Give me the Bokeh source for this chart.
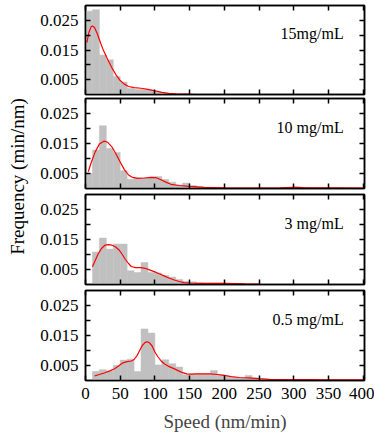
import math
from bokeh.plotting import figure
from bokeh.models import Range1d, LinearAxis, FixedTicker, Label, PrintfTickFormatter
from bokeh.layouts import row, column
from bokeh.embed import file_html
from bokeh.resources import INLINE

# ---------------- data ----------------
bin_left = list(range(0, 400, 10))
bin_width = 10

panel_labels = ["15mg/mL", "10 mg/mL", "3 mg/mL", "0.5 mg/mL"]

hist_15 = [0.0281, 0.0286, 0.0133, 0.0117, 0.0061, 0.0042, 0.0020, 0.0017, 0.0017, 0.0015,
           0.0008, 0.0004, 0.0002, 0.0002, 0.0001, 0, 0, 0, 0, 0,
           0, 0, 0, 0, 0, 0, 0, 0, 0, 0,
           0, 0, 0, 0, 0, 0, 0, 0, 0, 0]
hist_10 = [0.0050, 0.0128, 0.0209, 0.0133, 0.0120, 0.0059, 0.0031, 0.0036, 0.0036, 0.0038,
           0.0040, 0.0030, 0.0021, 0.0012, 0.0018, 0.0010, 0.0007, 0.0005, 0.0004, 0.0003,
           0.0002, 0.0002, 0.0001, 0.0001, 0.0001, 0, 0, 0, 0, 0,
           0.0006, 0, 0, 0, 0.0003, 0, 0, 0, 0, 0]
hist_3 = [0, 0.0108, 0.0155, 0.0118, 0.0135, 0.0135, 0.0046, 0.0040, 0.0073, 0.0040,
          0.0038, 0.0030, 0.0025, 0.0017, 0.0011, 0.0009, 0.0006, 0.0005, 0.0005, 0.0005,
          0.0004, 0.0002, 0, 0, 0, 0, 0, 0, 0, 0,
          0, 0, 0, 0, 0, 0, 0, 0, 0, 0]
hist_05 = [0, 0.0030, 0.0036, 0.0032, 0.0050, 0.0068, 0.0071, 0.0030, 0.0172, 0.0158,
           0.0052, 0.0069, 0.0056, 0.0045, 0.0019, 0.0022, 0.0022, 0.0022, 0.0033, 0.0019,
           0.0013, 0.0010, 0.0008, 0.0017, 0.0008, 0.0004, 0.0003, 0.0003, 0.0002, 0.0002,
           0.0003, 0.0002, 0.0002, 0.0003, 0.0002, 0.0002, 0.0002, 0.0002, 0.0002, 0.0001]

kde_15_x = [2, 5, 8, 10, 13, 17, 22, 26, 32, 38, 44, 50, 56, 62, 70, 80, 90, 100, 110, 120, 130, 145, 160]
kde_15_y = [0.0175, 0.0210, 0.0228, 0.0231, 0.0226, 0.0205, 0.0172, 0.0148, 0.0118, 0.0090, 0.0066,
            0.0047, 0.0035, 0.0027, 0.0023, 0.0021, 0.0017, 0.0012, 0.0007, 0.0004, 0.0002, 0.0001, 0.0]

kde_10_x = [4, 8, 14, 20, 27, 32, 38, 44, 50, 56, 62, 68, 75, 85, 95, 102, 108, 115, 123, 135, 150,
            170, 200, 250, 280, 300, 320, 350, 400]
kde_10_y = [0.0056, 0.0085, 0.0122, 0.0148, 0.0158, 0.0154, 0.0139, 0.0115, 0.0088, 0.0063, 0.0045,
            0.0037, 0.0034, 0.0035, 0.0037, 0.0036, 0.0030, 0.0022, 0.0014, 0.0010, 0.0007,
            0.0004, 0.0002, 0.0001, 0.0002, 0.0004, 0.0002, 0.0002, 0.0001]

kde_3_x = [10, 14, 18, 23, 28, 33, 38, 43, 48, 53, 57, 62, 66, 72, 80, 86, 93, 100, 107, 114, 121,
           128, 135, 142, 150, 165, 185, 200, 215, 230, 250]
kde_3_y = [0.0059, 0.0080, 0.0101, 0.0120, 0.0131, 0.0133, 0.0131, 0.0126, 0.0116, 0.0100, 0.0085,
           0.0070, 0.0060, 0.0056, 0.0056, 0.0054, 0.0048, 0.0042, 0.0035, 0.0028, 0.0021,
           0.0015, 0.0010, 0.0006, 0.0005, 0.0004, 0.0004, 0.0004, 0.0003, 0.0002, 0.0001]

kde_05_x = [13, 20, 28, 35, 42, 48, 54, 60, 66, 70, 74, 78, 82, 86, 89, 92, 96, 100, 104, 109, 114,
            119, 124, 129, 134, 140, 146, 152, 160, 170, 180, 190, 200, 210, 222, 235, 250, 265,
            290, 320, 350, 400]
kde_05_y = [0.0015, 0.0020, 0.0026, 0.0032, 0.0039, 0.0049, 0.0059, 0.0063, 0.0065, 0.0070, 0.0082,
            0.0100, 0.0117, 0.0127, 0.0129, 0.0126, 0.0115, 0.0095, 0.0080, 0.0065, 0.0055,
            0.0048, 0.0043, 0.0038, 0.0032, 0.0026, 0.0022, 0.0021, 0.0022, 0.0022, 0.0022,
            0.0020, 0.0017, 0.0013, 0.0010, 0.0009, 0.0006, 0.0004, 0.0003, 0.0003, 0.0002, 0.0002]

x_ticks = [0, 50, 100, 150, 200, 250, 300, 350, 400]
y_major = [0.005, 0.015, 0.025]
y_minor = [0.01, 0.02]

x_label = "Speed (nm/min)"
y_label = "Frequency (min/nm)"

# ---------------- style ----------------
FONT = "Liberation Serif"
BAR = "#c0c0c0"
LW = 1.5
BL, BR = 53, 10
FRAME_W = 279
PANEL_W = BL + FRAME_W + BR


def style_axis(ax, show_labels, label_size="17px"):
    ax.axis_line_width = LW
    ax.axis_line_color = "black"
    ax.major_tick_in = 5
    ax.major_tick_out = 0
    ax.minor_tick_in = 5
    ax.minor_tick_out = 0
    ax.major_tick_line_width = LW
    ax.minor_tick_line_width = LW
    ax.major_label_text_font = FONT
    if show_labels:
        ax.major_label_text_font_size = label_size
        ax.major_label_standoff = 7
        ax.major_label_text_color = "black"
    else:
        ax.major_label_text_font_size = "0px"
        ax.major_label_standoff = 0
        ax.major_label_text_color = None


def make_panel(hist, kx, ky, label, top_b, frame_h, bot_b, last):
    p = figure(width=PANEL_W, height=top_b + frame_h + bot_b,
               x_range=Range1d(0, 402), y_range=Range1d(0, 0.03),
               x_axis_location=None, y_axis_location=None,
               toolbar_location=None, output_backend="svg",
               min_border_left=BL, min_border_right=BR,
               min_border_top=top_b, min_border_bottom=bot_b)
    p.grid.visible = False
    p.outline_line_color = "black"
    p.outline_line_width = LW
    p.background_fill_color = "white"
    p.border_fill_color = "white"

    p.quad(left=bin_left, right=[b + bin_width for b in bin_left], bottom=0, top=hist,
           fill_color=BAR, line_color=BAR, line_width=0.5)
    p.line(kx, ky, line_color="#ff0000", line_width=1.2)

    left = LinearAxis(ticker=FixedTicker(ticks=y_major, minor_ticks=y_minor),
                      formatter=PrintfTickFormatter(format="%.3f"))
    style_axis(left, True)
    p.add_layout(left, "left")

    right = LinearAxis(ticker=FixedTicker(ticks=y_major, minor_ticks=y_minor))
    style_axis(right, False)
    p.add_layout(right, "right")

    top = LinearAxis(ticker=FixedTicker(ticks=x_ticks))
    style_axis(top, False)
    top.minor_tick_in = 0
    p.add_layout(top, "above")

    bottom = LinearAxis(ticker=FixedTicker(ticks=x_ticks))
    style_axis(bottom, last)
    bottom.minor_tick_in = 0
    if last:
        bottom.major_label_standoff = 7
        bottom.axis_label = x_label
        bottom.axis_label_text_font = FONT
        bottom.axis_label_text_font_size = "19px"
        bottom.axis_label_text_font_style = "normal"
        bottom.axis_label_standoff = 9
    p.add_layout(bottom, "below")

    p.add_layout(Label(x=372, y=0.0205, text=label, text_align="right",
                       text_baseline="middle", text_font=FONT,
                       text_font_size="16px", text_color="black"))
    return p


p1 = make_panel(hist_15, kde_15_x, kde_15_y, panel_labels[0], 5, 89, 2, False)
p2 = make_panel(hist_10, kde_10_x, kde_10_y, panel_labels[1], 2, 90, 3, False)
p3 = make_panel(hist_3, kde_3_x, kde_3_y, panel_labels[2], 3, 90, 3, False)
p4 = make_panel(hist_05, kde_05_x, kde_05_y, panel_labels[3], 3, 90, 56, True)

TOTAL_H = (5 + 89 + 2) + (2 + 90 + 3) + (3 + 90 + 3) + (3 + 90 + 56)
lab = figure(width=32, height=TOTAL_H, x_range=Range1d(0, 32), y_range=Range1d(TOTAL_H, 0),
             x_axis_location=None, y_axis_location=None, toolbar_location=None,
             output_backend="svg", min_border=0)
lab.grid.visible = False
lab.outline_line_color = None
lab.add_layout(Label(x=17, y=176, text=y_label, angle=math.pi / 2,
                     text_align="center", text_baseline="middle",
                     text_font=FONT, text_font_size="19px", text_color="black"))

layout = row(lab, column(p1, p2, p3, p4, spacing=0), spacing=0)

open("out.html", "w").write(file_html(layout, INLINE))
